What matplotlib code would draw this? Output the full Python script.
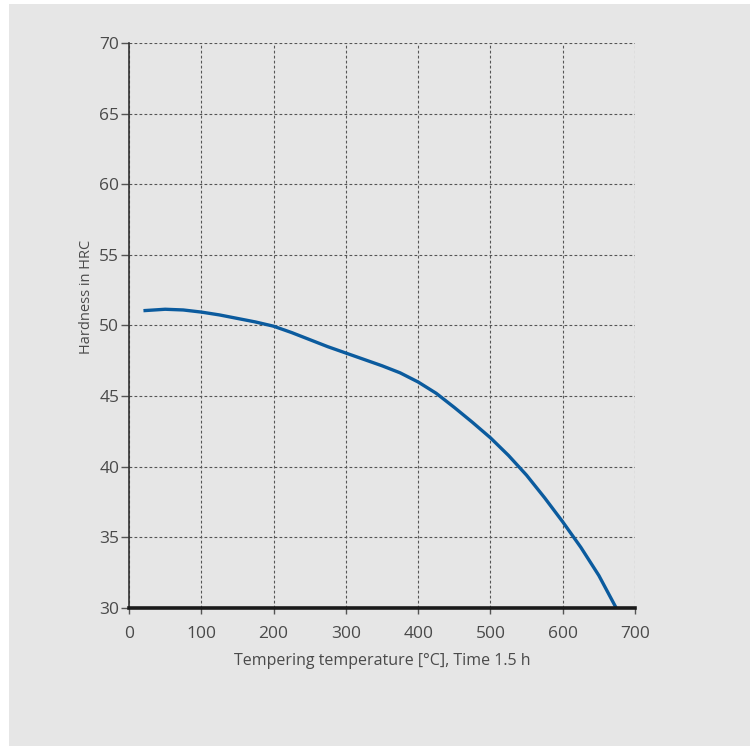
import matplotlib
matplotlib.use("Agg")
import matplotlib.pyplot as plt
from matplotlib.patches import Rectangle

temperature = [20, 50, 75, 100, 125, 150, 175, 200, 225, 250, 275, 300, 325, 350, 375, 400,
               425, 450, 475, 500, 525, 550, 575, 600, 625, 650, 674]
hardness = [51.05, 51.15, 51.1, 50.95, 50.75, 50.5, 50.25, 49.95, 49.5, 49.0, 48.5, 48.05, 47.6,
            47.15, 46.65, 46.0, 45.2, 44.2, 43.15, 42.05, 40.8, 39.4, 37.8, 36.1, 34.3, 32.3, 30.0]

x_ticks = [0, 100, 200, 300, 400, 500, 600, 700]
y_ticks = [30, 35, 40, 45, 50, 55, 60, 65, 70]

plt.rcParams['font.family'] = ['Open Sans', 'DejaVu Sans']
bg = '#e6e6e6'
text_col = '#4a4a4a'

fig = plt.figure(figsize=(7.5, 7.49), dpi=100)
fig.patch.set_facecolor('white')
rect = Rectangle((9/750, 3/749), 1 - 9/750, 742/749, transform=fig.transFigure,
                 facecolor=bg, edgecolor='none', zorder=-10)
fig.add_artist(rect)

ax = fig.add_axes([129/750, (749-608)/749, 506/750, 565/749])
ax.set_zorder(1)
ax.set_facecolor(bg)
ax.plot(temperature, hardness, color='#0b5b9e', lw=2.4, solid_capstyle='butt',
        solid_joinstyle='round', zorder=3)

ax.set_xlim(0, 700)
ax.set_ylim(30, 70)
ax.set_xticks(x_ticks)
ax.set_yticks(y_ticks)
ax.grid(True, color='#555555', linestyle=(0, (2.5, 2)), linewidth=0.8)
ax.set_axisbelow(True)

for s in ['top', 'right']:
    ax.spines[s].set_visible(False)
ax.spines['left'].set_color('#333333')
ax.spines['left'].set_linewidth(1.2)
ax.spines['bottom'].set_color('#1a1a1a')
ax.spines['bottom'].set_linewidth(2.6)
ax.spines['bottom'].set_zorder(4)

ax.tick_params(axis='y', direction='out', length=6, width=1, color='#555555',
               labelsize=12.5, labelcolor=text_col, pad=1)
ax.tick_params(axis='x', direction='out', length=4, width=1, color='#555555',
               labelsize=12.5, labelcolor=text_col, pad=9)

ax.set_xlabel('Tempering temperature [°C], Time 1.5 h', fontsize=11.5, color=text_col, labelpad=8)
ax.set_ylabel('Hardness in HRC', fontsize=10.5, color=text_col)
ax.yaxis.set_label_coords(-35/506, (608-297)/565)

fig.savefig('out.png', dpi=100)
